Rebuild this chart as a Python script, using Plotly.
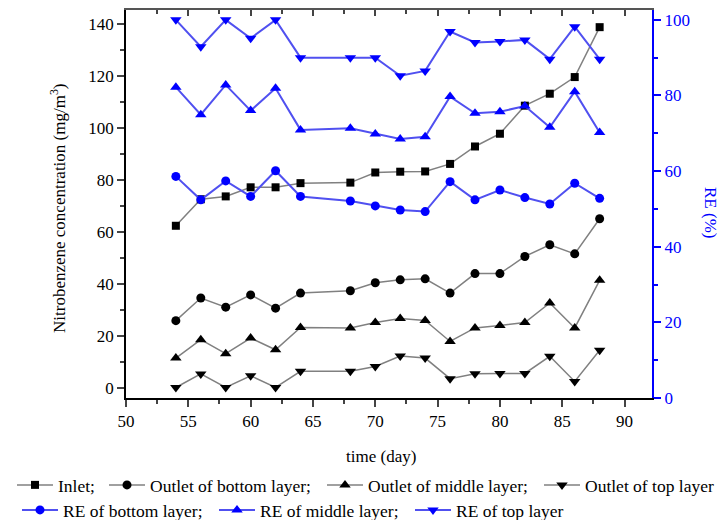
import plotly.graph_objects as go

days = [54, 56, 58, 60, 62, 64, 68, 70, 72, 74, 76, 78, 80, 82, 84, 86, 88]

inlet = [62.4, 72.6, 73.7, 77.2, 77.2, 78.8, 79.0, 82.9, 83.2, 83.3, 86.2, 92.9, 97.8, 108.6, 113.2, 119.6, 138.8]
out_bottom = [25.9, 34.6, 31.1, 35.8, 30.7, 36.5, 37.4, 40.5, 41.6, 42.0, 36.5, 44.0, 44.0, 50.6, 55.1, 51.6, 65.1]
out_middle = [11.5, 18.6, 13.2, 19.2, 14.7, 23.3, 23.1, 25.2, 26.7, 26.0, 17.9, 23.1, 24.0, 25.2, 32.7, 23.1, 41.4]
out_top = [0.2, 5.4, 0.2, 4.7, 0.2, 6.4, 6.4, 8.3, 12.3, 11.5, 3.6, 5.5, 5.6, 5.6, 12.2, 2.5, 14.5]

re_bottom = [58.6, 52.4, 57.4, 53.3, 60.1, 53.3, 52.1, 50.8, 49.7, 49.3, 57.2, 52.4, 55.0, 53.0, 51.3, 56.8, 52.8]
re_middle = [82.2, 74.9, 82.8, 76.0, 81.9, 70.9, 71.3, 69.8, 68.5, 69.1, 79.7, 75.3, 75.7, 77.2, 71.6, 81.0, 70.2]
re_top = [100.0, 92.9, 100.0, 95.1, 100.0, 90.0, 90.0, 90.0, 85.2, 86.5, 96.9, 94.0, 94.3, 94.7, 89.6, 98.2, 89.6]

names_conc = ["Inlet;", "Outlet of bottom layer;", "Outlet of middle layer;", "Outlet of top layer"]
names_re = ["RE of bottom layer;", "RE of middle layer;", "RE of top layer"]

FONT = "Liberation Serif"
BLUE = "#0000ff"
BLUE_LINE = "#5050f0"
GREY = "#808080"

# plot area in pixels (for placing legend entries / titles)
L, R, T, B = 126, 652, 10, 398
PW, PH = R - L, B - T


def px_x(px):
    return (px - L) / PW


def px_y(py):
    return (B - py) / PH


# legend entry left edges (px) and rows (px)
leg_pos = [(12, 485), (104, 485), (322, 485), (539, 485), (17, 510), (214, 510), (410, 510)]
leg_ids = ["legend"] + ["legend%d" % i for i in range(2, 8)]

fig = go.Figure()

conc_series = [inlet, out_bottom, out_middle, out_top]
conc_symbols = ["square", "circle", "triangle-up", "triangle-down"]
conc_sizes = [8, 9, 10, 10]
k = 0
for name, vals, sym, sz in zip(names_conc, conc_series, conc_symbols, conc_sizes):
    fig.add_trace(go.Scatter(
        x=days, y=vals, name=name, mode="lines+markers",
        line=dict(color=GREY, width=1.5),
        marker=dict(symbol=sym, size=sz, color="black"),
        legend=leg_ids[k], xaxis="x", yaxis="y",
    ))
    k += 1

re_series = [re_bottom, re_middle, re_top]
re_symbols = ["circle", "triangle-up", "triangle-down"]
re_sizes = [9, 10, 10]
for name, vals, sym, sz in zip(names_re, re_series, re_symbols, re_sizes):
    fig.add_trace(go.Scatter(
        x=days, y=vals, name=name, mode="lines+markers",
        line=dict(color=BLUE_LINE, width=2),
        marker=dict(symbol=sym, size=sz, color=BLUE),
        legend=leg_ids[k], xaxis="x", yaxis="y2",
    ))
    k += 1

# empty trace to create the top mirror axis
fig.add_trace(go.Scatter(x=[], y=[], xaxis="x2", yaxis="y", showlegend=False, hoverinfo="skip"))

x_range = [50, 92.2]

legends = {}
for lid, (lx, ly) in zip(leg_ids, leg_pos):
    legends[lid] = dict(
        orientation="h", x=px_x(lx), xanchor="left", y=px_y(ly), yanchor="middle",
        font=dict(size=17.5, family=FONT, color="black"), bgcolor="rgba(0,0,0,0)",
        itemwidth=36, tracegroupgap=0,
    )

fig.update_layout(
    width=727, height=520,
    margin=dict(l=L, r=727 - R, t=T, b=520 - B, autoexpand=False),
    paper_bgcolor="white", plot_bgcolor="white",
    font=dict(family=FONT, size=17, color="black"),
    showlegend=True,
    xaxis=dict(
        range=x_range, tick0=50, dtick=5, ticks="outside", ticklen=7, tickwidth=1.5,
        showline=True, linecolor="black", linewidth=1.5, showgrid=False, zeroline=False,
        minor=dict(ticks="outside", ticklen=4, tickwidth=1.5, dtick=2.5, tick0=50, showgrid=False),
        tickfont=dict(size=17, family=FONT, color="black"),
    ),
    xaxis2=dict(
        range=x_range, overlaying="x", side="top", tick0=50, dtick=5, ticks="inside",
        ticklen=6, tickwidth=1.5, showticklabels=False, showline=True, linecolor="#555555",
        linewidth=1.5, showgrid=False, zeroline=False,
        minor=dict(ticks="inside", ticklen=4, tickwidth=1.5, dtick=2.5, tick0=50, showgrid=False),
    ),
    yaxis=dict(
        range=[-3.85, 145.4], tick0=0, dtick=20, ticks="outside", ticklen=7, tickwidth=1.5,
        showline=True, linecolor="black", linewidth=1.5, showgrid=False, zeroline=False,
        minor=dict(ticks="outside", ticklen=4, tickwidth=1.5, dtick=10, tick0=0, showgrid=False),
        tickfont=dict(size=17, family=FONT, color="black"),
    ),
    yaxis2=dict(
        range=[0, 102.6], overlaying="y", side="right", tick0=0, dtick=20, ticks="outside",
        ticklen=7, tickwidth=1.5, tickcolor=BLUE, showline=True, linecolor=BLUE, linewidth=2,
        showgrid=False, zeroline=False,
        minor=dict(ticks="outside", ticklen=4, tickwidth=1.5, dtick=10, tick0=0, tickcolor=BLUE, showgrid=False),
        tickfont=dict(size=17, family=FONT, color=BLUE),
    ),
    annotations=[
        dict(text="Nitrobenzene concentration (mg/m<sup>3</sup>)", textangle=-90,
             x=px_x(58), y=px_y(208), xref="paper", yref="paper", showarrow=False,
             font=dict(size=17, family=FONT, color="black"), xanchor="center", yanchor="middle"),
        dict(text="RE (%)", textangle=90,
             x=px_x(710), y=px_y(212), xref="paper", yref="paper", showarrow=False,
             font=dict(size=17, family=FONT, color=BLUE), xanchor="center", yanchor="middle"),
        dict(text="time (day)",
             x=px_x(381), y=px_y(457), xref="paper", yref="paper", showarrow=False,
             font=dict(size=17, family=FONT, color="black"), xanchor="center", yanchor="middle"),
    ],
    **legends,
)

fig.write_html("out.html")
